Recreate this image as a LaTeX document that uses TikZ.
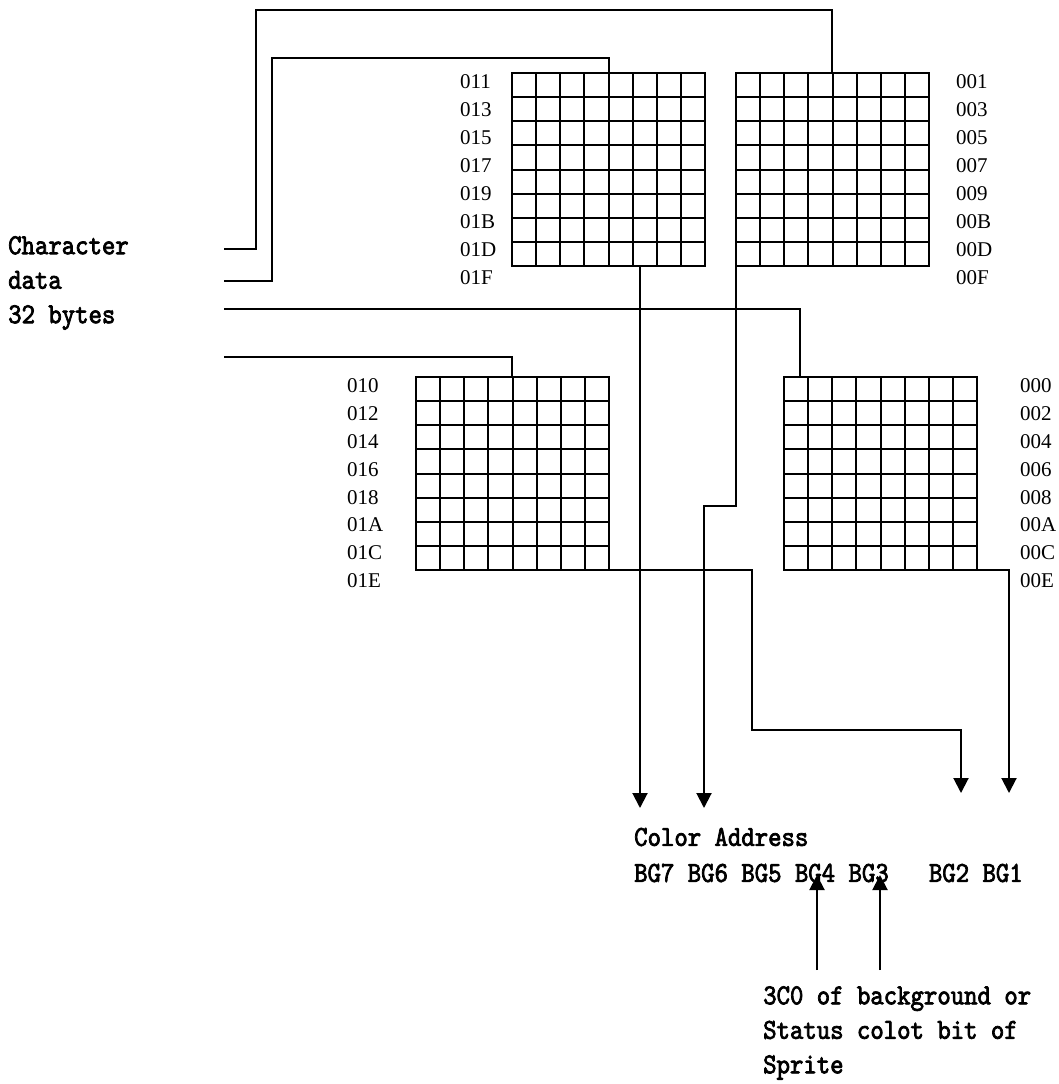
\documentclass[tikz,border=0pt]{standalone}
\usepackage{fontspec}
\setmainfont{Liberation Serif}
\newfontfamily\notefont{lmmono10-regular.otf}[FakeStretch=0.88,FakeBold=2.5]
\usepackage{tikz}
\usetikzlibrary{arrows.meta,positioning,calc}
\definecolor{Ink}{HTML}{000000}
\tikzset{cellgrid/.style={draw=Ink,line width=2pt,minimum width=193pt,
    minimum height=193pt,inner sep=0pt,outer sep=0pt},
  gridline/.style={draw=Ink,line width=2pt},
  addr/.style={anchor=west,inner sep=0pt,text=Ink,
    font=\fontsize{21}{24}\selectfont},
  note/.style={anchor=west,inner sep=0pt,align=left,text=Ink,
    font=\notefont\fontsize{29}{34.5}\selectfont},
  wire/.style={draw=Ink,line width=2pt},
  arr/.style={wire,-{Triangle[length=15pt,width=15pt]}}}

\begin{document}
\begin{tikzpicture}[x=1pt,y=-1pt]
    \useasboundingbox (0,0) rectangle (1059,1084);
    % the four 8x8 cells
    \node[cellgrid] (g11) at (608.5,169.5) {};
    \node[cellgrid,right=31pt of g11] (g01) {};
    \node[cellgrid] (g10) at (512.5,473.5) {};
    \node[cellgrid,right=175pt of g10] (g00) {};
    \foreach \g in {g11,g01,g10,g00}
      \foreach \i in {1,...,7}{
        \draw[gridline] ($(\g.north west)!\i/8!(\g.north east)$) -- ($(\g.south west)!\i/8!(\g.south east)$);
        \draw[gridline] ($(\g.north west)!\i/8!(\g.south west)$) -- ($(\g.north east)!\i/8!(\g.south east)$);
      }
    % addresses
    \foreach \t [count=\k from 0] in {011,013,015,017,019,01B,01D,01F}
      \node[addr] (a11-\k) at (460,{82+27.9*\k}) {\t};
    \foreach \t [count=\k from 0] in {001,003,005,007,009,00B,00D,00F}
      \node[addr] (a01-\k) at (956,{82+27.9*\k}) {\t};
    \foreach \t [count=\k from 0] in {010,012,014,016,018,01A,01C,01E}
      \node[addr] (a10-\k) at (347,{386+27.8*\k}) {\t};
    \foreach \t [count=\k from 0] in {000,002,004,006,008,00A,00C,00E}
      \node[addr] (a00-\k) at (1020,{386+27.8*\k}) {\t};
    % texts
    \node[note] (chr) at (8,283) {Character\\data\\32 bytes};
    \node[note,font=\notefont\fontsize{29}{36}\selectfont] (caddr) at (634,855)
      {Color Address\\BG7 BG6 BG5 BG4 BG3~~~BG2 BG1};
    \node[note] (src) at (763,1033) {3C0 of background or\\Status colot bit of\\Sprite};
    % wire ends
    \coordinate (in1) at (224,249);
    \coordinate (in2) at (224,281);
    \coordinate (in3) at (224,309);
    \coordinate (in4) at (224,357);
    \coordinate (bg7) at (640,808);
    \coordinate (bg6) at (704,808);
    \coordinate (bg2) at (961,793);
    \coordinate (bg1) at (1009,793);
    \coordinate (bg4) at (817,875);
    \coordinate (bg3) at (880,875);
    \coordinate (s4) at (817,970);
    \coordinate (s3) at (880,970);
    % inputs
    \draw[wire] (in1) -| (256,10) -| (832,0 |- g01.north);
    \draw[wire] (in2) -| (272,58) -| (609,0 |- g11.north);
    \draw[wire] (in3) -| (800,0 |- g00.north);
    \draw[wire] (in4) -| (512,0 |- g10.north);
    % outputs
    \draw[arr] (640,0 |- g11.south) -- (bg7);
    \draw[arr] (g01.south west) |- (704,506) -- (bg6);
    \draw[arr] (g10.south east) -| (752,730) -| (bg2);
    \draw[arr] (g00.south east) -| (bg1);
    \draw[arr] (s4) -- (bg4);
    \draw[arr] (s3) -- (bg3);
\end{tikzpicture}
\end{document}
